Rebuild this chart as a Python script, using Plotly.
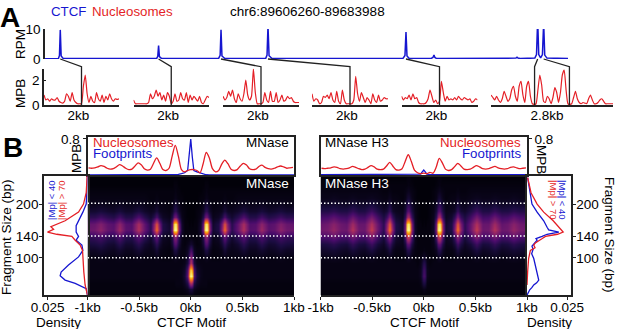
import plotly.graph_objects as go

W, H = 617, 329
RED = "#e41f26"
BLUE = "#1616d0"
INK = "#222222"
FONT = "Liberation Sans, Arial, sans-serif"

# ---------- Panel A data ----------
ctcf_kb = [0, 2.0, 2.15, 2.27, 2.4, 2.7, 9, 16.6, 16.76, 16.88, 17.0, 17.3, 22, 25.8, 26.03, 26.16, 26.3, 26.7, 30,
           32.8, 33.0, 33.14, 33.3, 33.7, 45, 53.2, 53.5, 53.65, 53.8, 54.1, 57.4, 57.65, 57.81, 57.95, 58.2, 69.8,
           70.0, 70.15, 70.3, 70.6, 72.8, 73.05, 73.22, 73.38, 73.66, 73.93, 74.11, 74.27, 74.6, 77.73]
ctcf_rpm = [0.1, 0.2, 1.2, 9.7, 1.0, 0.2, 0.15, 0.2, 0.9, 4.5, 0.8, 0.2, 0.15, 0.2, 1.2, 9.7, 1.0, 0.25, 0.15,
            0.2, 1.3, 11.0, 1.1, 0.25, 0.15, 0.2, 1.2, 9.0, 1.0, 0.25, 0.2, 0.5, 1.3, 0.5, 0.15, 0.15,
            0.3, 0.6, 0.3, 0.15, 0.3, 1.5, 13.0, 1.5, 0.4, 1.5, 12.0, 1.3, 0.3, 0.15]
ctcf_ticks = [0, 10]
mpb_ticks = [0, 2]

panel_1 = [.8,.4,.5,.3,.5,.4,.4,.6,.3,.2,.15,.3,.9,.7,.3,1.0,.4,.2,.1,.1,.1,1.5,2.4,.9,.2,.7,.3,.2,1.0,.5,.3,.8,.2,.7,.4,.9,.5,.3,.5,.45,.5]
panel_2 = [.4,.1,.1,.1,.1,.1,.1,.1,.2,.9,.5,.7,1.2,.7,1.0,.4,.8,.3,1.0,.7,.1,.3,.9,.3,.4,1.0,.5,.4,1.0,.2,.8,.4,.7,.5,.3,.7,.2,.1,.4,.7,.6]
panel_3 = [.7,.4,.6,1.1,.7,1.2,.5,.2,.9,.5,.3,.9,2.0,.8,.4,.7,2.9,1.0,.1,.1,.1,.2,1.0,.4,.2,1.1,.3,.3,1.0,.2,.4,.8,.3,.4,.7,.5,.6,.3,.2,.2,.2]
panel_4 = [.9,.3,.5,.4,.1,.2,.7,.6,.8,.5,1.0,.4,.2,1.1,.3,.1,1.2,.4,.1,.1,.1,.1,.4,2.3,.9,.3,1.0,.6,.2,.6,.4,.1,.9,.4,.2,.8,.3,.4,.6,.5,.5]
panel_5 = [.7,.4,.6,.5,.8,.4,.9,.5,.6,.2,.1,.1,.1,.2,.5,1.2,.7,.2,.4,.1,.3,1.9,1.0,.3,.7,.4,.5,.4,.6,.4,.7,.5,.4,.6,.5,.4,.5,.2,.3,.5,.4]
panel_6 = [.8,.6,.4,.7,.4,.2,.5,1.1,.7,.3,.5,1.2,1.5,.7,.3,1.5,1.9,.8,.2,1.5,1.9,.7,.1,.05,.1,1.2,2.4,1.6,.3,.2,.7,.5,.1,.6,1.4,1.0,.2,1.0,2.4,2.8,1.2,.1,.05,.1,.6,1.1,.5,.2,.1,.2,.15,.1,.5,.8,.4,.1,.1,.2,.4,.5,.3,.1,.1,.1,.1,.1]
panel_width_kb = [2, 2, 2, 2, 2, 2.8]
panel_labels = ["2kb", "2kb", "2kb", "2kb", "2kb", "2.8kb"]
# motif positions (kb on the track, kb inside the zoom panel) joined by the connectors
links = [(2.27, 0, 0), (16.88, 0, 1), (26.16, 0, 2), (33.14, 0, 3), (53.65, 0, 4), (73.22, -0.4, 5), (74.11, 0.4, 5)]

# ---------- Panel B data ----------
bp_half = [-990,-930,-870,-810,-750,-690,-630,-570,-510,-450,-390,-360,-330,-300,-270,-210,-180,-165,-150,-135,-120,-90,-60,-30,-15,0]
sizes = [258,246,234,222,210,198,186,174,162,150,138,126,114,102,90,78,66,54,42,30]
mnase_half = [
 [1,1,1,1,1,1,1,1,1,1,1,1,1,1,1,1,1,1,1,1,1,1,1,1,1,1],
 [1,1,1,1,1,1,1,1,1,1,1,1,1,1,1,1,1,1,1,1,1,1,1,1,1,1],
 [1,1,1,1,1,1,1,1,1,1,1,1,1,1,1,1,1,2,2,2,1,1,1,1,1,1],
 [2,2,2,2,2,2,2,2,2,2,2,2,2,2,2,2,2,2,3,2,2,1,1,1,1,1],
 [3,3,3,3,3,3,3,3,3,3,2,2,3,2,2,2,2,3,4,3,2,2,1,1,1,1],
 [4,4,5,4,4,5,4,4,5,4,3,3,5,3,3,2,4,7,9,7,4,2,1,1,1,1],
 [8,8,10,8,7,10,7,7,11,7,5,6,10,5,4,3,7,12,16,12,7,3,2,1,1,1],
 [15,15,19,15,13,20,13,13,23,14,8,13,22,11,6,4,14,26,32,26,14,4,2,1,1,1],
 [28,29,35,27,25,38,25,24,45,27,14,34,60,30,12,7,34,85,96,85,34,7,2,2,1,2],
 [30,31,38,28,26,42,26,25,47,28,15,38,68,35,12,8,38,92,100,92,38,8,2,2,2,2],
 [16,17,21,15,14,23,14,13,25,15,8,16,28,13,6,4,15,30,38,30,15,4,2,2,2,3],
 [10,11,13,9,8,14,8,8,15,8,5,9,16,8,4,3,10,20,25,20,10,3,2,4,6,8],
 [6,6,8,6,5,8,5,5,9,5,4,5,9,4,3,2,5,10,12,10,5,3,3,6,14,22],
 [3,3,4,3,3,4,3,3,4,3,3,3,4,3,2,2,3,4,5,4,3,3,3,8,24,38],
 [3,3,3,3,3,3,3,3,3,3,3,3,3,3,3,3,3,3,3,3,3,3,4,11,30,50],
 [3,3,3,3,3,3,3,3,3,3,3,3,3,3,3,3,3,3,3,3,3,4,7,24,72,92],
 [3,3,3,3,3,3,3,3,3,3,3,3,3,3,3,3,3,3,3,3,3,4,9,28,88,100],
 [2,2,2,2,2,2,2,2,2,2,2,2,2,2,2,2,2,2,3,3,3,3,6,13,38,50],
 [2,2,2,2,2,2,2,2,2,2,2,2,2,2,2,2,2,2,2,2,2,2,3,5,9,11],
 [1,1,1,1,1,1,1,1,1,1,1,1,1,1,1,1,1,1,1,1,1,1,1,1,2,2],
]
h3_half = [
 [1,1,1,1,1,1,1,1,1,1,1,1,1,1,1,1,1,1,1,1,1,1,1,1,1,1],
 [1,1,1,1,1,1,1,1,1,1,1,1,1,1,1,1,1,2,2,2,1,1,1,1,1,1],
 [2,2,2,2,2,2,2,2,2,2,2,2,2,2,2,2,2,2,3,2,2,1,1,1,1,1],
 [3,3,3,3,3,3,3,3,3,3,2,2,3,2,2,2,3,4,5,4,3,2,1,1,1,1],
 [4,4,5,4,4,5,4,4,5,4,3,3,5,3,3,2,4,7,9,7,4,2,1,1,1,1],
 [7,7,8,7,6,9,7,7,10,7,4,5,10,4,4,3,7,12,15,12,7,3,2,1,1,1],
 [13,13,15,12,12,17,12,12,19,12,7,9,17,7,5,4,11,20,26,20,11,4,2,1,1,1],
 [21,22,26,21,20,29,21,20,32,20,11,18,33,16,8,5,18,36,46,36,18,5,2,1,1,1],
 [29,31,37,30,28,43,29,29,47,29,15,34,62,30,12,7,36,86,96,86,36,6,2,2,1,2],
 [31,33,40,31,30,48,31,30,52,30,15,39,70,36,12,8,40,92,100,92,40,7,2,2,2,2],
 [22,23,28,22,21,31,22,21,34,20,10,22,38,18,8,5,24,46,55,46,24,5,2,2,2,2],
 [11,12,15,11,10,17,11,10,19,10,6,12,20,10,5,4,12,24,28,24,12,4,2,2,2,2],
 [7,8,9,7,6,10,7,6,11,6,4,6,11,5,3,3,6,12,14,12,6,3,2,2,2,3],
 [4,4,5,4,3,5,4,3,5,3,3,3,4,3,2,2,3,5,6,5,3,2,2,3,5,7],
 [3,3,3,3,3,3,3,3,3,3,3,3,3,3,3,3,3,3,3,3,3,3,2,4,10,14],
 [3,3,3,3,3,3,3,3,3,3,3,3,3,3,3,3,3,3,3,3,3,3,3,5,14,20],
 [3,3,3,3,3,3,3,3,3,3,3,3,3,3,3,3,3,3,3,3,3,3,3,5,16,22],
 [2,2,2,2,2,2,2,2,2,2,2,2,2,2,2,2,2,2,2,2,2,2,2,3,9,12],
 [2,2,2,2,2,2,2,2,2,2,2,2,2,2,2,2,2,2,2,2,2,2,2,2,3,4],
 [1,1,1,1,1,1,1,1,1,1,1,1,1,1,1,1,1,1,1,1,1,1,1,1,1,1],
]

line_bp = [-990,-960,-930,-900,-870,-840,-810,-780,-750,-720,-690,-660,-630,-600,-570,-540,-510,-480,-450,-420,-390,-360,-330,-300,-270,-240,-210,-180,-150,-120,-90,-60,-30,0,30,60,90,120,150,180,210,240,270,300,330,360,390,420,450,480,510,540,570,600,630,660,690,720,750,780,810,840,870,900,930,960,990]
mnase_nuc = [.16,.15,.16,.18,.21,.19,.15,.13,.14,.18,.23,.2,.15,.12,.13,.2,.27,.23,.14,.11,.13,.26,.38,.26,.12,.1,.15,.42,.66,.42,.12,.07,.1,.12,.12,.1,.05,.25,.5,.38,.14,.07,.1,.24,.33,.25,.13,.1,.12,.2,.26,.22,.14,.12,.13,.19,.22,.17,.14,.13,.15,.18,.2,.18,.15,.16,.17]
h3_nuc = [.15,.14,.15,.16,.18,.17,.14,.13,.14,.16,.19,.17,.14,.12,.13,.17,.21,.18,.13,.12,.13,.2,.28,.2,.12,.11,.14,.3,.45,.3,.11,.05,.03,.04,.03,.06,.04,.17,.37,.27,.13,.1,.12,.19,.26,.2,.13,.12,.13,.17,.21,.18,.14,.13,.14,.17,.19,.16,.14,.13,.14,.17,.18,.16,.14,.15,.16]
foot_bp = [-1000,-180,-150,-120,-90,-60,-30,-15,0,15,30,60,90,120,150,180,1000]
mnase_foot = [0,0,.005,.015,.03,.05,.1,.4,.8,.4,.1,.07,.05,.02,.005,0,0]
h3_foot = [.005,.005,.005,.005,.005,.01,.02,.07,.11,.07,.02,.01,.005,.005,.005,.005,.005]

dens_l_nuc_size = [252,221,200,185,169,163,158,153,148,144,140,133,124,114,99,74,50,31]
dens_l_nuc = [.0002,.0008,.0025,.0056,.0140,.0188,.0229,.0212,.0250,.0192,.0098,.0077,.0046,.0031,.0029,.0023,.0015,0]
dens_l_foot_size = [252,200,185,169,160,148,140,133,124,114,102,87,74,67,59,53,43,31]
dens_l_foot = [0,.0008,.0029,.0056,.0071,.0071,.0056,.0071,.0035,.0029,.0056,.0119,.0165,.0171,.0140,.0077,.0008,0]
dens_r_nuc_size = [249,221,200,185,169,160,154,148,144,140,136,133,128,124,119,114,99,74,50]
dens_r_nuc = [.0004,.0025,.0063,.0104,.0163,.0188,.0208,.0225,.0190,.0115,.0095,.0079,.0052,.0042,.0050,.0021,.0010,.0004,0]
dens_r_foot_size = [249,200,185,169,157,152,148,144,140,136,133,128,122,116,108,99,90,80,74,66,59,54,50,45,41,31]
dens_r_foot = [.0004,.0031,.0063,.0104,.0125,.0135,.0198,.0125,.0094,.0056,.0063,.0048,.0031,.0038,.0029,.0042,.0048,.0056,.0063,.0065,.0073,.0060,.0042,.0030,.0017,0]

fragment_ticks = [100, 140, 200]
motif_ticks = [-1000, -500, 0, 500, 1000]
motif_left_text = ["-1kb", "-0.5kb", "0kb", "0.5kb", "1kb"]
guide_sizes = [100, 140, 200]

# ---------- layout helpers ----------
def xdom(a, b): return [a / W, b / W]
def ydom(top, bot): return [1 - bot / H, 1 - top / H]

track_px = (45, 568)
track_kb = 77.728
zoom_px = [(44, 119), (133.5, 209), (223, 299), (312, 388), (401.5, 477.5), (491, 613)]
panels = [panel_1, panel_2, panel_3, panel_4, panel_5, panel_6]

fig = go.Figure()
layout = dict(width=W, height=H, margin=dict(l=0, r=0, t=0, b=0, autoexpand=False), paper_bgcolor="white", plot_bgcolor="rgba(0,0,0,0)",
              showlegend=False, font=dict(family=FONT, size=13.5, color="black"))
annos, shapes = [], []

def txt(x, y, s, color="black", size=13.5, rot=0, anchor="center", bold=False):
    annos.append(dict(x=x / W, y=1 - y / H, xref="paper", yref="paper", text=f"<b>{s}</b>" if bold else s, showarrow=False,
                      font=dict(family=FONT, size=size, color=color), textangle=rot, xanchor=anchor, yanchor="middle",
                      borderpad=0, borderwidth=0))

n = 0
def axes(xd, yd, xa, ya):
    global n
    n += 1
    s = "" if n == 1 else str(n)
    layout["xaxis" + s] = dict(domain=xd, anchor="y" + s, showgrid=False, zeroline=False, automargin=False, **xa)
    layout["yaxis" + s] = dict(domain=yd, anchor="x" + s, showgrid=False, zeroline=False, automargin=False, **ya)
    return ("x" + s, "y" + s)

# CTCF track
xa, ya = axes(xdom(*track_px), ydom(29, 59), dict(range=[0, track_kb], visible=False),
              dict(range=[0, 10], tickvals=ctcf_ticks, ticks="inside", ticklen=3, showline=True, linecolor=INK, linewidth=1.5,
                   tickcolor=INK, tickfont=dict(size=13.5)))
fig.add_trace(go.Scatter(x=ctcf_kb, y=ctcf_rpm, mode="lines", line=dict(color=BLUE, width=1.5), cliponaxis=False, xaxis=xa, yaxis=ya))

# Zoom panels
for i, (vals, wkb, lab, px) in enumerate(zip(panels, panel_width_kb, panel_labels, zoom_px)):
    xs = [-wkb / 2 + wkb * k / (len(vals) - 1) for k in range(len(vals))]
    ya_def = dict(range=[0, 2.9], showline=False, showticklabels=False)
    if i == 0:
        ya_def = dict(range=[0, 2.9], tickvals=mpb_ticks, ticks="inside", ticklen=2, showline=True, linecolor=INK, linewidth=1.5,
                      tickcolor=INK, tickfont=dict(size=13.5))
    xa, ya = axes(xdom(*px), ydom(68.75, 105),
                  dict(range=[-wkb / 2, wkb / 2], tickvals=[-0.08 * wkb / 2], ticktext=[lab], ticks="", showline=True,
                       linecolor=INK, linewidth=1.6, tickfont=dict(size=13.5), ticklabelstandoff=-3), ya_def)
    fig.add_trace(go.Scatter(x=xs, y=vals, mode="lines", line=dict(color=RED, width=1.2, shape="spline", smoothing=0.5),
                             cliponaxis=False, xaxis=xa, yaxis=ya))

# connectors
for kb, inner, p in links:
    x0 = track_px[0] + kb / track_kb * (track_px[1] - track_px[0])
    a, b = zoom_px[p]
    wkb = panel_width_kb[p]
    x1 = a + (inner + wkb / 2) / wkb * (b - a)
    path = f"M {x0/W} {1-59/H} L {x1/W} {1-66.7/H} L {x1/W} {1-105/H}"
    shapes.append(dict(type="path", path=path, xref="paper", yref="paper", line=dict(color=INK, width=1.3), layer="above"))

# Panel B
frag_range = [31.4, 252]
kbx_left = (87.5, 294)
kbx_right = (320.5, 527)
top_y = (137, 175)
heat_y = (175, 295)
dens_range = [0.0272, 0]
frame = dict(showline=True, linecolor=INK, linewidth=1.8, mirror=True)

def mirror_columns(half):
    return [row + row[-2::-1] for row in half]
full_bp = bp_half + [-v for v in bp_half[-2::-1]]

def heat(px, z):
    xa, ya = axes(xdom(*px), ydom(*heat_y),
                  dict(range=[-1000, 1000], tickvals=motif_ticks, ticktext=motif_left_text, ticks="outside", ticklen=3,
                       tickcolor=INK, showline=True, linecolor=INK, linewidth=1.5, tickfont=dict(size=13.5), ticklabelstandoff=-4),
                  dict(range=frag_range, visible=False))
    fig.add_trace(go.Heatmap(x=full_bp, y=sizes, z=z, colorscale="Inferno", zmin=0, zmax=100, zsmooth="best", showscale=False,
                             xaxis=xa, yaxis=ya))
    for s in guide_sizes:
        shapes.append(dict(type="line", xref=xa, yref=ya, x0=-1000, x1=1000, y0=s, y1=s, layer="above",
                           line=dict(color="white", width=1.5, dash="1.5px 2px")))

def top(px, nuc, foot, side):
    xa, ya = axes(xdom(*px), ydom(*top_y), dict(range=[-1000, 1000], showticklabels=False, ticks="", **frame),
                  dict(range=[0, 0.844], tickvals=[0.8], ticktext=["0.8"], ticks="outside", ticklen=3, tickcolor=INK, side=side,
                       tickfont=dict(size=13.5), **frame))
    fig.add_trace(go.Scatter(x=foot_bp, y=foot, mode="lines", line=dict(color=BLUE, width=1.3), xaxis=xa, yaxis=ya))
    fig.add_trace(go.Scatter(x=line_bp, y=nuc, mode="lines", line=dict(color=RED, width=1.3, shape="spline", smoothing=0.8), xaxis=xa, yaxis=ya))

def dens(px, series, side, rng, ticktext):
    xa, ya = axes(xdom(*px), ydom(176, 295),
                  dict(range=rng, tickvals=[0.025], ticktext=[ticktext], ticks="outside", ticklen=3, tickcolor=INK,
                       tickfont=dict(size=13.5), ticklabelstandoff=-4, **frame),
                  dict(range=frag_range, tickvals=fragment_ticks, ticks="outside", ticklen=3, tickcolor=INK, side=side,
                       tickfont=dict(size=13.5), ticklabelstandoff=-2, **frame))
    for (d, s, c) in series:
        fig.add_trace(go.Scatter(x=d, y=s, mode="lines", line=dict(color=c, width=1.3), xaxis=xa, yaxis=ya))

heat(kbx_left, mirror_columns(mnase_half))
heat(kbx_right, mirror_columns(h3_half))
top(kbx_left, mnase_nuc, mnase_foot, "left")
top(kbx_right, h3_nuc, h3_foot, "right")
dens((44, 87.5), [(dens_l_foot, dens_l_foot_size, BLUE), (dens_l_nuc, dens_l_nuc_size, RED)], "left", dens_range, "0.025")
dens((527, 570.7), [(dens_r_foot, dens_r_foot_size, BLUE), (dens_r_nuc, dens_r_nuc_size, RED)], "right", dens_range[::-1], "0.025")

# Text
txt(0, 18, "A", size=28, anchor="left", bold=True)
txt(3, 147, "B", size=28, anchor="left", bold=True)
txt(50.5, 11, "CTCF", BLUE, anchor="left", size=13.3)
txt(92, 11, "Nucleosomes", RED, anchor="left", size=13.3)
txt(230, 11, "chr6:89606260-89683988", anchor="left")
txt(20, 44, "RPM", rot=-90)
txt(20, 94, "MPB", rot=-90)
txt(76, 159, "MPB", rot=-90)
txt(542, 159, "MPB", rot=90)
txt(6, 237, "Fragment Size (bp)", rot=-90)
txt(610, 235, "Fragment Size (bp)", rot=90)
txt(51, 200, "|Mp| &lt; 40", BLUE, size=9.5, rot=-90)
txt(61, 200, "|Mp| &gt; 70", RED, size=9.5, rot=-90)
txt(563, 200, "|Mp| &lt; 40", BLUE, size=9.5, rot=90)
txt(554, 200, "|Mp| &gt; 70", RED, size=9.5, rot=90)
txt(58, 322, "Density")
txt(549, 322, "Density")
txt(191, 322, "CTCF Motif")
txt(424, 322, "CTCF Motif")
txt(93, 142, "Nucleosomes", RED, anchor="left", size=13.3)
txt(93, 153.5, "Footprints", BLUE, anchor="left", size=13.3)
txt(289, 142, "MNase", anchor="right")
txt(289, 183, "MNase", "white", anchor="right")
txt(324.5, 142, "MNase H3", anchor="left")
txt(324.5, 183, "MNase H3", "white", anchor="left")
txt(521, 142, "Nucleosomes", RED, anchor="right", size=13.3)
txt(521, 153.5, "Footprints", BLUE, anchor="right", size=13.3)

layout["annotations"] = annos
layout["shapes"] = shapes
fig.update_layout(**layout)
fig.write_html("out.html", config={"displayModeBar": False}, post_script="document.body.style.margin='0';")
